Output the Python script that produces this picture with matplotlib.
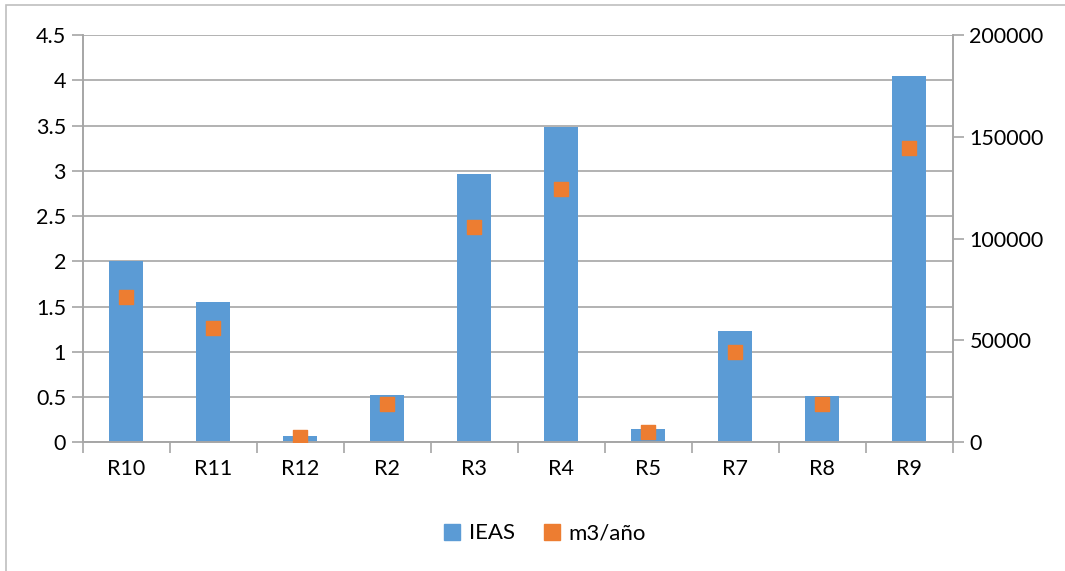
import matplotlib.pyplot as plt
from matplotlib.patches import Rectangle
from matplotlib.lines import Line2D
import numpy as np

plt.rcParams['font.family'] = ['Lato', 'DejaVu Sans']

regiones = ['R10', 'R11', 'R12', 'R2', 'R3', 'R4', 'R5', 'R7', 'R8', 'R9']
ieas = [2.0, 1.55, 0.066, 0.52, 2.96, 3.48, 0.147, 1.233, 0.515, 4.05]
m3_anio = [71500, 56000, 2500, 18700, 105900, 124400, 5200, 44200, 18700, 144400]

azul = '#5B9BD5'
naranja = '#ED7D31'
gris = '#A6A6A6'

fig = plt.figure(figsize=(10.65, 5.71), dpi=100)
ax = fig.add_axes([0.0777, 0.2254, 0.8169, 0.7133])
ax2 = ax.twinx()

x = np.arange(len(regiones))
ax.bar(x, ieas, width=0.39, color=azul, zorder=2)
ax2.scatter(x, m3_anio, marker='s', s=110, color=naranja, zorder=3)

ax.set_xlim(-0.5, len(regiones) - 0.5)
ax.set_ylim(0, 4.5)
ax.set_yticks(np.arange(0, 4.51, 0.5))
ax.set_yticklabels(['0', '0.5', '1', '1.5', '2', '2.5', '3', '3.5', '4', '4.5'])
ax2.set_ylim(0, 200000)
ax2.set_yticks([0, 50000, 100000, 150000, 200000])
ax2.set_yticklabels(['0', '50000', '100000', '150000', '200000'])

ax.grid(axis='y', color=gris, linewidth=1.2, zorder=0)
ax.set_axisbelow(True)

# category labels centred, ticks on the boundaries
ax.set_xticks(x)
ax.set_xticklabels(regiones)
ax.set_xticks(np.arange(-0.5, len(regiones), 1.0), minor=True)
ax.tick_params(axis='x', which='major', length=0, pad=12, labelsize=15.5)
ax.tick_params(axis='x', which='minor', length=8, color=gris, width=1.2)
ax.tick_params(axis='y', length=8, color=gris, width=1.2, labelsize=15.5, pad=4)
ax2.tick_params(axis='y', length=8, color=gris, width=1.2, labelsize=15.5, pad=4)

for a in (ax, ax2):
    a.spines['top'].set_visible(False)
    for s in ('left', 'right', 'bottom'):
        a.spines[s].set_color(gris)
        a.spines[s].set_linewidth(1.2)

# square swatches for both series
handles = [Line2D([], [], linestyle='none', marker='s', markersize=11, color=azul),
           Line2D([], [], linestyle='none', marker='s', markersize=11, color=naranja)]
fig.legend(handles, ['IEAS', 'm3/año'], loc='center', bbox_to_anchor=(0.512, 0.066),
           ncol=2, frameon=False, fontsize=16, handlelength=0.7,
           handletextpad=0.4, columnspacing=1.3)

# outer chart border (only top and left fall inside the image)
fig.patches.append(Rectangle((6 / 1065, -0.05), 1.1, 1.05 - 5 / 571, transform=fig.transFigure,
                             fill=False, edgecolor='#BFBFBF', linewidth=1.2))

fig.savefig('out.png', dpi=100, facecolor='white')
